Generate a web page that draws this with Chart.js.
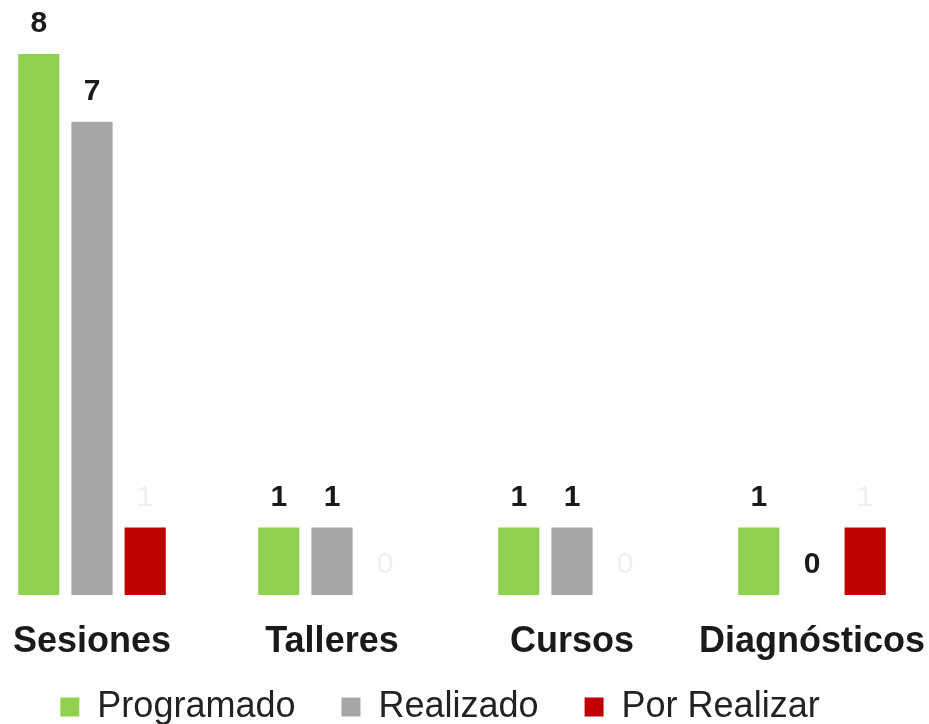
<!DOCTYPE html>
<html>
<head>
<meta charset="utf-8">
<script src="https://cdn.jsdelivr.net/npm/chart.js@4/dist/chart.umd.min.js"></script>
<style>
  html, body { margin: 0; padding: 0; background: #fff; overflow: hidden; }
  #wrap { position: absolute; left: -28px; top: 0; width: 970px; height: 735px; }
</style>
</head>
<body>
<div id="wrap"><canvas id="actividadesChart"></canvas></div>
<script>
  // datos
  var categorias = ['Sesiones', 'Talleres', 'Cursos', 'Diagnósticos'];
  var programado = [8, 1, 1, 1];
  var realizado = [7, 1, 1, 0];
  var porRealizar = [1, 0, 0, 1];

  var colores = ['#92D050', '#A6A6A6', '#C00000'];
  var coloresEtiqueta = ['#1a1a1a', '#1a1a1a', '#f0f0f0'];

  // etiquetas encima de cada barra
  var etiquetasPlugin = {
    id: 'etiquetas',
    afterDatasetsDraw: function (chart) {
      var ctx = chart.ctx;
      ctx.save();
      ctx.textAlign = 'center';
      ctx.textBaseline = 'middle';
      chart.data.datasets.forEach(function (ds, i) {
        var meta = chart.getDatasetMeta(i);
        ctx.font = (i === 2 ? '' : 'bold ') + '30px "Liberation Sans", Arial, sans-serif';
        ctx.fillStyle = coloresEtiqueta[i];
        meta.data.forEach(function (bar, j) {
          ctx.fillText(String(ds.data[j]), bar.x, bar.y - 30);
        });
      });
      ctx.restore();
    }
  };

  // ajuste fino: el eje x se solapa con el hueco de la leyenda, y la leyenda va un poco a la izquierda
  var ajustePlugin = {
    id: 'ajuste',
    afterLayout: function (chart) {
      chart.scales.x.bottom += 40;
      chart.legend.left -= 17;
      chart.legend.right -= 17;
    }
  };

  var canvas = document.getElementById('actividadesChart');
  var chart = new Chart(canvas.getContext('2d'), {
    type: 'bar',
    data: {
      labels: categorias,
      datasets: [
        { label: 'Programado', data: programado, backgroundColor: colores[0] },
        { label: 'Realizado', data: realizado, backgroundColor: colores[1] },
        { label: 'Por Realizar', data: porRealizar, backgroundColor: colores[2] }
      ]
    },
    options: {
      responsive: true,
      maintainAspectRatio: false,
      animation: false,
      categoryPercentage: 0.665,
      barPercentage: 0.774,
      layout: { padding: 0 },
      plugins: {
        legend: {
          position: 'bottom',
          labels: {
            boxWidth: 19,
            boxHeight: 19,
            padding: 46,
            color: '#222',
            font: { family: '"Liberation Sans", Arial, sans-serif', size: 36 }
          }
        },
        tooltip: { enabled: false }
      },
      scales: {
        x: {
          grid: { display: false },
          border: { display: false },
          ticks: {
            color: '#1a1a1a',
            padding: 17,
            font: { family: '"Liberation Sans", Arial, sans-serif', size: 36, weight: 'bold' }
          },
          afterFit: function (scale) {
            scale.height = 48;
          }
        },
        y: {
          display: false,
          min: 0,
          max: 8.8
        }
      }
    },
    plugins: [etiquetasPlugin, ajustePlugin]
  });
</script>
</body>
</html>
